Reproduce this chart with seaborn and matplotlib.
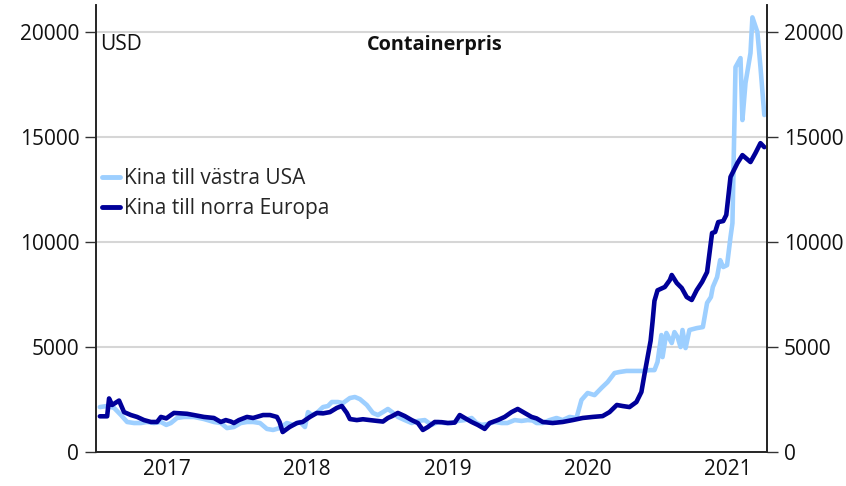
import matplotlib
matplotlib.use("Agg")
import matplotlib.pyplot as plt
import seaborn as sns
import pandas as pd

# ---- data ----
series_names = ["Kina till västra USA", "Kina till norra Europa"]
series_colors = ["#9dcfff", "#000099"]

usa_dates = [
    "2017-01-08", "2017-01-27", "2017-02-14", "2017-03-04", "2017-03-20", "2017-04-07",
    "2017-04-25", "2017-05-11", "2017-05-29", "2017-06-16", "2017-06-30", "2017-07-12",
    "2017-07-28", "2017-08-15", "2017-09-10", "2017-10-06", "2017-11-01", "2017-11-19",
    "2017-12-05", "2017-12-23", "2018-01-10", "2018-01-26", "2018-02-11", "2018-03-01",
    "2018-03-19", "2018-04-04", "2018-04-21", "2018-05-10", "2018-05-26", "2018-06-13",
    "2018-06-26", "2018-07-04", "2018-07-14", "2018-07-27", "2018-08-12", "2018-08-25",
    "2018-09-04", "2018-09-20", "2018-10-03", "2018-10-21", "2018-11-03", "2018-11-16",
    "2018-12-04", "2018-12-20", "2019-01-02", "2019-01-15", "2019-01-28", "2019-02-08",
    "2019-02-23", "2019-03-13", "2019-03-31", "2019-04-16", "2019-05-04", "2019-05-22",
    "2019-06-07", "2019-06-25", "2019-07-13", "2019-07-29", "2019-08-16", "2019-09-03",
    "2019-09-16", "2019-09-29", "2019-10-15", "2019-11-02", "2019-11-20", "2019-12-05",
    "2019-12-24", "2020-01-11", "2020-01-27", "2020-02-09", "2020-02-19", "2020-03-06",
    "2020-03-24", "2020-04-11", "2020-04-27", "2020-05-15", "2020-06-02", "2020-06-15",
    "2020-07-01", "2020-07-19", "2020-08-06", "2020-08-22", "2020-09-09", "2020-09-22",
    "2020-10-10", "2020-11-05", "2020-11-26", "2020-12-09", "2020-12-22", "2020-12-30",
    "2021-01-09", "2021-01-12", "2021-01-22", "2021-02-05", "2021-02-12", "2021-02-20",
    "2021-02-28", "2021-03-05", "2021-03-13", "2021-03-23", "2021-04-11", "2021-04-27",
    "2021-05-08", "2021-05-18", "2021-05-23", "2021-06-03", "2021-06-11", "2021-06-19",
    "2021-06-29", "2021-07-08", "2021-07-13", "2021-07-21", "2021-08-03", "2021-08-08",
    "2021-08-16", "2021-08-29", "2021-09-03", "2021-09-16", "2021-09-24", "2021-10-04",
]
usa_values = [
    2140, 2190, 2100, 1760, 1430, 1380,
    1380, 1430, 1380, 1430, 1290, 1380,
    1620, 1670, 1670, 1570, 1430, 1380,
    1140, 1190, 1380, 1430, 1430, 1380,
    1100, 1050, 1140, 1380, 1290, 1430,
    1190, 1900, 1760, 1860, 2140, 2190,
    2380, 2380, 2330, 2570, 2620, 2520,
    2240, 1860, 1760, 1900, 2050, 1900,
    1670, 1520, 1380, 1480, 1520, 1290,
    1430, 1380, 1380, 1480, 1520, 1620,
    1380, 1290, 1330, 1430, 1380, 1380,
    1520, 1480, 1520, 1500, 1380, 1380,
    1520, 1620, 1520, 1670, 1620, 2480,
    2810, 2710, 3050, 3330, 3760, 3810,
    3860, 3860, 3860, 3900, 3900, 4290,
    5570, 4520, 5670, 5190, 5710, 5480,
    5000, 5810, 4950, 5810, 5900, 5950,
    7100, 7380, 7860, 8330, 9140, 8810,
    8900, 10240, 10900, 18330, 18760, 15810,
    17570, 19000, 20700, 20000, 18330, 16050,
]

eur_dates = [
    "2017-01-08", "2017-01-27", "2017-02-01", "2017-02-09", "2017-02-27", "2017-03-12",
    "2017-03-30", "2017-04-15", "2017-05-03", "2017-05-21", "2017-06-06", "2017-06-16",
    "2017-06-30", "2017-07-12", "2017-07-20", "2017-08-07", "2017-08-23", "2017-09-10",
    "2017-10-06", "2017-11-01", "2017-11-19", "2017-12-02", "2017-12-15", "2017-12-23",
    "2018-01-05", "2018-01-26", "2018-02-11", "2018-03-09", "2018-03-27", "2018-04-14",
    "2018-04-21", "2018-04-29", "2018-05-17", "2018-06-05", "2018-06-20", "2018-07-09",
    "2018-07-27", "2018-08-12", "2018-08-30", "2018-09-17", "2018-09-30", "2018-10-13",
    "2018-10-21", "2018-11-08", "2018-11-24", "2018-12-12", "2018-12-31", "2019-01-15",
    "2019-01-28", "2019-02-08", "2019-02-23", "2019-03-13", "2019-03-31", "2019-04-16",
    "2019-04-29", "2019-05-12", "2019-05-30", "2019-06-17", "2019-07-03", "2019-07-21",
    "2019-08-03", "2019-08-16", "2019-09-03", "2019-09-19", "2019-10-07", "2019-10-20",
    "2019-11-10", "2019-11-28", "2019-12-16", "2020-01-01", "2020-01-19", "2020-02-06",
    "2020-02-19", "2020-03-06", "2020-04-01", "2020-04-27", "2020-05-23", "2020-06-18",
    "2020-07-14", "2020-08-09", "2020-08-27", "2020-09-15", "2020-09-30", "2020-10-18",
    "2020-11-05", "2020-11-18", "2020-11-26", "2020-12-04", "2020-12-12", "2020-12-17",
    "2020-12-22", "2020-12-30", "2021-01-18", "2021-01-31", "2021-02-05", "2021-02-18",
    "2021-03-03", "2021-03-16", "2021-03-29", "2021-04-11", "2021-04-25", "2021-05-08",
    "2021-05-21", "2021-05-29", "2021-06-06", "2021-06-19", "2021-06-27", "2021-07-08",
    "2021-07-26", "2021-08-08", "2021-08-29", "2021-09-11", "2021-09-24", "2021-10-04",
]
eur_values = [
    1700, 1700, 2550, 2240, 2450, 1900,
    1760, 1670, 1520, 1430, 1430, 1670,
    1600, 1760, 1860, 1840, 1820, 1760,
    1670, 1620, 1430, 1520, 1450, 1380,
    1520, 1670, 1620, 1760, 1760, 1670,
    1430, 950, 1190, 1380, 1430, 1670,
    1860, 1840, 1900, 2100, 2190, 1860,
    1570, 1520, 1560, 1520, 1480, 1450,
    1620, 1710, 1860, 1710, 1520, 1380,
    1050, 1190, 1430, 1420, 1380, 1400,
    1760, 1620, 1430, 1290, 1100, 1380,
    1520, 1670, 1900, 2050, 1860, 1670,
    1600, 1430, 1380, 1430, 1520, 1620,
    1670, 1710, 1900, 2240, 2190, 2140,
    2380, 2860, 3700, 4500, 5300, 6200,
    7200, 7700, 7860, 8190, 8430, 8050,
    7810, 7380, 7240, 7710, 8100, 8570,
    10430, 10480, 10950, 11000, 11290, 13100,
    13760, 14140, 13810, 14240, 14710, 14520,
]

y_ticks = [0, 5000, 10000, 15000, 20000]
year_labels = ["2017", "2018", "2019", "2020", "2021"]
title_text = "Containerpris"
unit_text = "USD"

# ---- build long-form table ----
df = pd.concat([
    pd.DataFrame({"date": pd.to_datetime(usa_dates), "value": usa_values, "series": series_names[0]}),
    pd.DataFrame({"date": pd.to_datetime(eur_dates), "value": eur_values, "series": series_names[1]}),
], ignore_index=True)

sns.set_theme(style="white")
plt.rcParams["font.family"] = ["Open Sans", "DejaVu Sans"]

W, H = 846, 486
fig = plt.figure(figsize=(W / 100, H / 100), dpi=100)
ax = fig.add_axes([96 / W, 1 - 452 / H, (767 - 96) / W, (452 - 5) / H])

sns.lineplot(data=df, x="date", y="value", hue="series", hue_order=series_names,
             palette=series_colors, linewidth=3.3, ax=ax, sort=False, estimator=None)

ax.set_ylim(0, 21290)
ax.set_xlim(pd.Timestamp("2016-12-29"), pd.Timestamp("2021-10-11"))
ax.set_yticks(y_ticks)
ax.set_yticklabels([str(t) for t in y_ticks])
ax.set_xlabel("")
ax.set_ylabel("")

# grid lines
for t in y_ticks[1:]:
    ax.axhline(t, color="#d6d6d6", lw=1.5, zorder=0)

# x ticks: year boundaries (marks), labels mid-year
year_starts = [pd.Timestamp(f"{y}-01-01") for y in year_labels]
mid_years = [pd.Timestamp(f"{y}-07-02") for y in year_labels]
ax.set_xticks(year_starts)
ax.set_xticklabels([""] * len(year_starts))
ax.set_xticks(mid_years, minor=True)
ax.set_xticklabels(year_labels, minor=True)
ax.tick_params(axis="x", which="major", length=8, width=1, color="#333333", direction="out")
ax.tick_params(axis="x", which="minor", length=0, labelsize=15, pad=5, labelcolor="#111111")
ax.tick_params(axis="y", which="major", length=8, width=1, color="#333333",
               labelsize=15, pad=4, labelcolor="#111111", direction="out")

ax.spines["top"].set_visible(False)
for s in ["left", "right", "bottom"]:
    ax.spines[s].set_color("#222222")
    ax.spines[s].set_linewidth(1.2)

# right axis duplicate
ax2 = ax.twinx()
ax2.set_ylim(ax.get_ylim())
ax2.set_yticks(y_ticks)
ax2.set_yticklabels([str(t) for t in y_ticks])
ax2.tick_params(axis="y", length=8, width=1, color="#333333", labelsize=15, pad=4,
                labelcolor="#111111", direction="out")
ax2.spines["top"].set_visible(False)
ax2.spines["right"].set_color("#222222")
ax2.spines["right"].set_linewidth(1.2)
ax2.grid(False)

# texts
ax.text(4 / 671, (452 - 45) / 447, unit_text, transform=ax.transAxes, ha="left", va="center",
        fontsize=15, color="#111111")
ax.text((435 - 96) / 671, (452 - 45) / 447, title_text, transform=ax.transAxes, ha="center",
        va="center", fontsize=14.3, fontweight="bold", color="#111111")

# legend
handles, labels = ax.get_legend_handles_labels()
leg = ax.legend(handles, labels, loc="upper left", bbox_to_anchor=(6 / 671, (452 - 168) / 447),
                frameon=False, fontsize=15, handlelength=0.85, handletextpad=0.2,
                borderpad=0, borderaxespad=0, labelspacing=0.45)
for line in leg.get_lines():
    line.set_linewidth(3.5)

fig.savefig("out.png", dpi=100)
